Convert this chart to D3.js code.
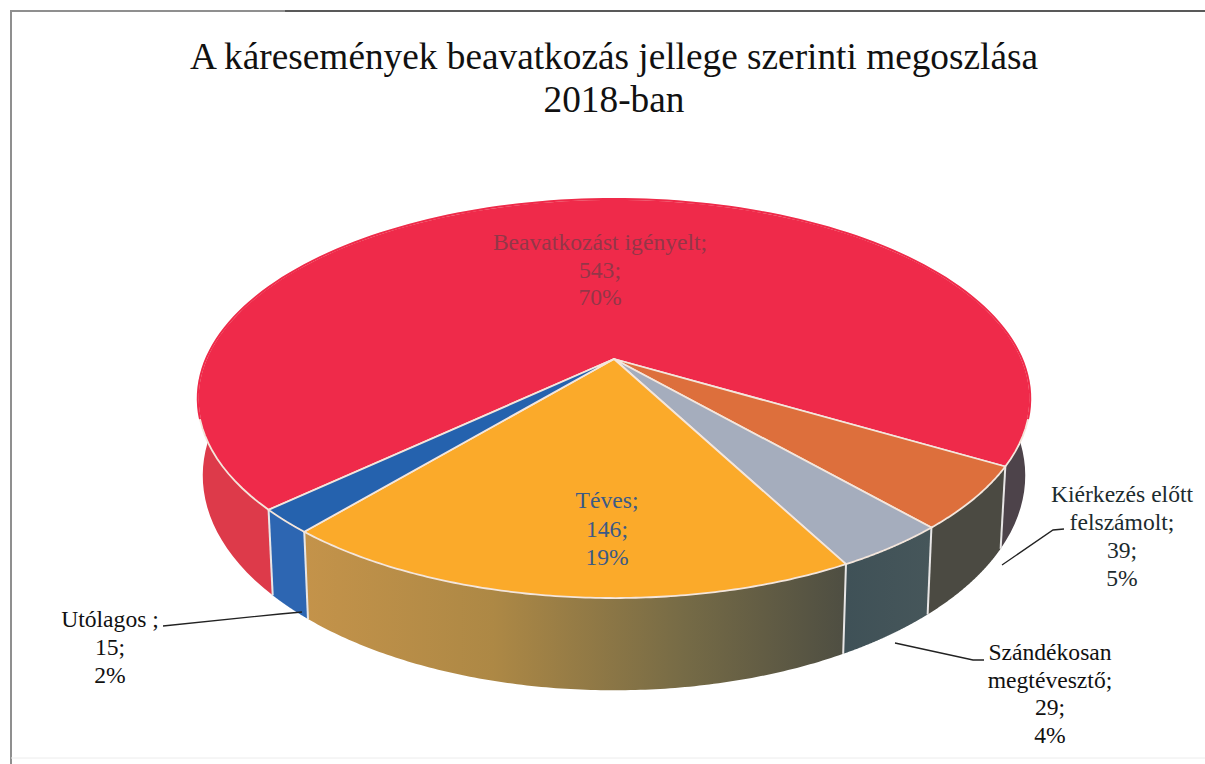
<!DOCTYPE html>
<html>
<head>
<meta charset="utf-8">
<script src="https://cdn.jsdelivr.net/npm/d3@7"></script>
<style>
  html, body { margin: 0; padding: 0; background: #fff; }
  svg { display: block; }
  text { font-family: "Liberation Serif", serif; }
</style>
</head>
<body>
<div id="chart"></div>
<script>
const titleLines = ["A káresemények beavatkozás jellege szerinti megoszlása", "2018-ban"];
const categories = ["Beavatkozást igényelt", "Kiérkezés előtt felszámolt", "Szándékosan megtévesztő", "Téves", "Utólagos"];
const values = [543, 39, 29, 146, 15];
const percents = ["70%", "5%", "4%", "19%", "2%"];

const width = 1205;
const height = 764;
const topColors = ["#ef2a4a", "#dd6f3c", "#a5adbd", "#fbaa2a", "#2562ae"];
const sideStops = [
  [[0, "#dd3a4a"], [0.3, "#dd3a4a"], [0.9, "#4d434a"], [1, "#4d434a"]],
  [[0, "#4b4a42"], [1, "#4b4a42"]],
  [[0, "#3f5157"], [1, "#46565a"]],
  [[0, "#c4934a"], [0.35, "#ad8845"], [0.7, "#766b46"], [1, "#4e4e42"]],
  [[0, "#2d66b2"], [1, "#2d66b2"]]
];

// label placement: anchor x, first baseline, line step
const labelLayout = [
  {x: 600, y: 250, step: 27.5, lines: ["Beavatkozást igényelt;"], fill: "#7d3a48", opacity: 0.8},
  {x: 1122, y: 502, step: 28, lines: ["Kiérkezés előtt", "felszámolt;"], fill: "#1c2b2e", opacity: 1},
  {x: 1050, y: 660, step: 27.5, lines: ["Szándékosan", "megtévesztő;"], fill: "#111", opacity: 1},
  {x: 607, y: 508, step: 28.5, lines: ["Téves;"], fill: "#3b5a86", opacity: 1},
  {x: 110, y: 627, step: 28, lines: ["Utólagos ;"], fill: "#111", opacity: 1}
];
const leaders = [
  [[163, 626], [280, 614], [302, 612]],
  [[1002, 565], [1053, 530], [1064, 529]],
  [[895, 643], [973, 660], [984, 660]]
];

const svg = d3.select("#chart").append("svg")
    .attr("width", width)
    .attr("height", height);

// tilted disc: perspective mapping of the unit circle to the page
const cx = 614, cy = 359;
const persp = 0.198, scaleX = 408, scaleY = 191.7;
const depth = 74, shrink = 0.988;

function project(angle, r, bottom) {
  const u = Math.cos(angle) * r;
  const v = Math.sin(angle) * r;
  const w = 1 - persp * v;
  const px = cx + scaleX * u / w;
  const py = cy + scaleY * v / w;
  if (!bottom) return [px, py];
  return [cx + (px - cx) * shrink, py + depth / w];
}

// angles run clockwise from 3 o'clock on screen, red slice starts after the blue one
const startOffset = (30.3 - 253.2) * Math.PI / 180;
const pie = d3.pie().sort(null)
    .startAngle(startOffset)
    .endAngle(startOffset + 2 * Math.PI);
const slices = pie(values);

const line = d3.line();
const arcPoints = (d, bottom) => d3.range(0, 121)
    .map(i => project(d.startAngle + (d.endAngle - d.startAngle) * i / 120, 1, bottom));

const defs = svg.append("defs");
slices.forEach((d, i) => {
  const top = arcPoints(d, false);
  const xs = top.filter(p => p[1] > cy).map(p => p[0]);
  const grad = defs.append("linearGradient")
      .attr("id", `side${i}`)
      .attr("gradientUnits", "userSpaceOnUse")
      .attr("x1", i === 0 ? 198 : d3.min(xs)).attr("y1", 0)
      .attr("x2", i === 0 ? 1030 : d3.max(xs)).attr("y2", 0);
  grad.selectAll("stop")
    .data(sideStops[i])
    .join("stop")
      .attr("offset", s => s[0])
      .attr("stop-color", s => s[1]);
});

// side wall first, the top face then hides the back half of it
svg.append("g").selectAll("path")
  .data(slices)
  .join("path")
    .attr("d", d => line(arcPoints(d, false).concat(arcPoints(d, true).reverse())) + "Z")
    .attr("fill", (d, i) => `url(#side${i})`);

svg.append("g").selectAll("line")
  .data(slices)
  .join("line")
    .attr("x1", d => project(d.startAngle, 1, false)[0])
    .attr("y1", d => project(d.startAngle, 1, false)[1])
    .attr("x2", d => project(d.startAngle, 1, true)[0])
    .attr("y2", d => project(d.startAngle, 1, true)[1])
    .attr("stroke", "#e8e6e6")
    .attr("stroke-width", 2)
    .attr("opacity", d => Math.sin(d.startAngle) > 0 ? 1 : 0);

svg.append("g").selectAll("path")
  .data(slices)
  .join("path")
    .attr("d", d => line([[cx, cy]].concat(arcPoints(d, false))) + "Z")
    .attr("fill", (d, i) => topColors[i])
    .attr("stroke", "#f4e6dc")
    .attr("stroke-width", 1.8)
    .attr("stroke-linejoin", "round");

// hide the rim stroke along the back edge where the reference has none
const backFrom = Math.PI - 0.3, backTo = 2 * Math.PI + 0.3;
svg.append("path")
    .attr("d", line(d3.range(0, 121).map(i => project(backFrom + (backTo - backFrom) * i / 120, 1, false))))
    .attr("fill", "none")
    .attr("stroke", "#ef2a4a")
    .attr("stroke-width", 2);

// scan frame
svg.append("path").attr("d", "M11,764V11H285").attr("fill", "none").attr("stroke", "#8f8f8f").attr("stroke-width", 2);
svg.append("path").attr("d", "M285,11H1205").attr("fill", "none").attr("stroke", "#222").attr("stroke-width", 1.6);
svg.append("path").attr("d", "M11,758H1205").attr("fill", "none").attr("stroke", "#ececec").attr("stroke-width", 1);

svg.append("g").selectAll("text")
  .data(titleLines)
  .join("text")
    .attr("x", 614)
    .attr("y", (d, i) => 69 + i * 43)
    .attr("text-anchor", "middle")
    .attr("font-size", 37.3)
    .attr("fill", "#111")
    .text(d => d);

svg.append("g").selectAll("path")
  .data(leaders)
  .join("path")
    .attr("d", d => line(d))
    .attr("fill", "none")
    .attr("stroke", "#222")
    .attr("stroke-width", 1.3);

const labels = svg.append("g").selectAll("g")
  .data(categories)
  .join("g")
    .attr("opacity", (d, i) => labelLayout[i].opacity);

labels.selectAll("text")
  .data((d, i) => labelLayout[i].lines.concat([`${values[i]};`, percents[i]])
    .map((t, j) => ({t, j, l: labelLayout[i]})))
  .join("text")
    .attr("x", d => d.l.x)
    .attr("y", d => d.l.y + d.j * d.l.step)
    .attr("text-anchor", "middle")
    .attr("font-size", 23.6)
    .attr("fill", d => d.l.fill)
    .text(d => d.t);
</script>
</body>
</html>
